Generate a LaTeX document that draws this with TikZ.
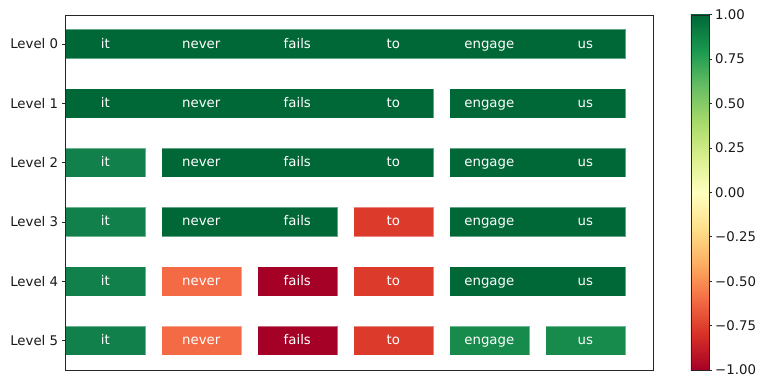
\documentclass[tikz,border=0pt]{standalone}
\usepackage{fontspec}
\setmainfont{DejaVu Sans}
\definecolor{cA}{HTML}{006837}
\definecolor{cB}{HTML}{11804A}
\definecolor{cG}{HTML}{168B4C}
\definecolor{cO}{HTML}{F46A45}
\definecolor{cR}{HTML}{DC3B2C}
\definecolor{cD}{HTML}{A50026}
\definecolor{m0}{HTML}{A50026}
\definecolor{m1}{HTML}{D73027}
\definecolor{m2}{HTML}{F46D43}
\definecolor{m3}{HTML}{FDAE61}
\definecolor{m4}{HTML}{FEE08B}
\definecolor{m5}{HTML}{FFFFBF}
\definecolor{m6}{HTML}{D9EF8B}
\definecolor{m7}{HTML}{A6D96A}
\definecolor{m8}{HTML}{66BD63}
\definecolor{m9}{HTML}{1A9850}
\definecolor{m10}{HTML}{006837}
\pgfdeclareverticalshading{rdylgn}{100bp}{color(0bp)=(m0); color(25bp)=(m0); color(30bp)=(m1); color(35bp)=(m2); color(40bp)=(m3); color(45bp)=(m4); color(50bp)=(m5); color(55bp)=(m6); color(60bp)=(m7); color(65bp)=(m8); color(70bp)=(m9); color(75bp)=(m10); color(100bp)=(m10)}
\tikzset{
  bar/.style={minimum height=29.3pt, inner sep=0pt, anchor=west, draw=white, draw opacity=0.4, line width=0.6pt},
  word/.style={text=white, font=\fontsize{13.3}{15}\selectfont, inner sep=0pt, text height=0.9em, text depth=0.1em},
  lab/.style={text=black!90, font=\fontsize{13.3}{15}\selectfont, inner sep=0pt},
  frame/.style={draw=black!85, line width=0.8pt, inner sep=0pt},
  tck/.style={draw=black!85, line width=0.8pt}
}
\begin{document}
\begin{tikzpicture}[x=1pt,y=-1pt]
\useasboundingbox (0,0) rectangle (759,376);
% bars
\foreach \r/\a/\b/\c in {0/0/5/cA,
  1/0/3/cA, 1/4/5/cA,
  2/0/0/cB, 2/1/3/cA, 2/4/5/cA,
  3/0/0/cB, 3/1/2/cA, 3/3/3/cR, 3/4/5/cA,
  4/0/0/cB, 4/1/1/cO, 4/2/2/cD, 4/3/3/cR, 4/4/5/cA,
  5/0/0/cB, 5/1/1/cO, 5/2/2/cD, 5/3/3/cR, 5/4/4/cG, 5/5/5/cG}
  {\node[bar, fill=\c, minimum width={96*(\b-\a)+80}] (bar\r-\a) at ({65.3+96*\a},{44+59.3*\r}) {};}
% words
\foreach \r in {0,...,5}{
  \foreach \w [count=\i from 0] in {it,never,fails,to,engage,us}
    {\node[word] (w\r-\i) at ({105.3+96*\i},{44+59.3*\r}) {\w};}
}
% axes frame
\node[frame, minimum width=588pt, minimum height=355.3pt, anchor=north west] (ax) at (65.3,14.7) {};
% y ticks and labels
\foreach \r in {0,...,5}{
  \coordinate (yt\r) at (65.3,{44+59.3*\r});
  \draw[tck] (yt\r) -- ++(-3.5,0);
  \node[lab, anchor=east] (lv\r) at (58.3,{44+59.3*\r}) {Level \r};
}
% colorbar
\node[shade, shading=rdylgn, minimum width=18pt, minimum height=355.3pt, inner sep=0pt, anchor=north west] (cbar) at (690.7,14.7) {};
\node[frame, minimum width=18pt, minimum height=355.3pt, anchor=north west] (cbarf) at (690.7,14.7) {};
\foreach \v [count=\k from 0] in {1.00,0.75,0.50,0.25,0.00,−0.25,−0.50,−0.75,−1.00}{
  \coordinate (ct\k) at (708.7,{14.7+44.4125*\k});
  \draw[tck] (ct\k) -- ++(3.5,0);
  \node[lab, anchor=west] (cl\k) at (715,{14.7+44.4125*\k}) {\v};
}
\end{tikzpicture}
\end{document}
